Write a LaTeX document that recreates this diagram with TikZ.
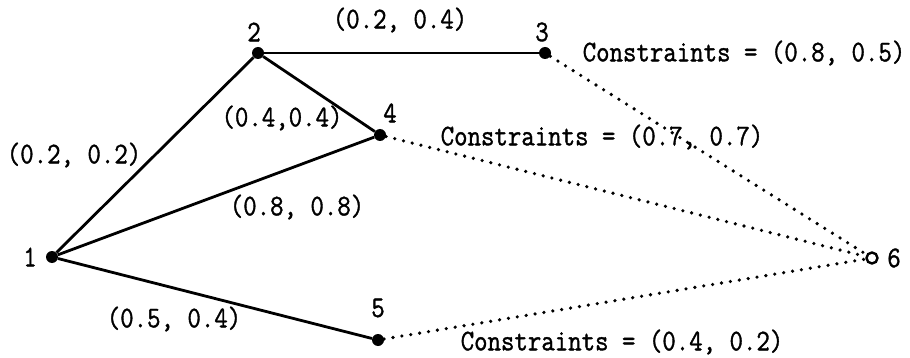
\documentclass[tikz,border=0pt]{standalone}
\usepackage{fontspec}
\setmonofont{Latin Modern Mono}[FakeBold=1.2,FakeStretch=0.87]
\usepackage{tikz}

\begin{document}
\begin{tikzpicture}[x=1pt,y=-1pt,font=\fontsize{30}{34}\ttfamily,
  dot/.style={circle,fill,inner sep=0pt,minimum size=12pt},
  sink/.style={circle,draw,line width=2.4pt,inner sep=0pt,minimum size=11pt},
  arc/.style={line width=2.8pt},
  bound/.style={line width=3.6pt,line cap=round,dash pattern=on 0pt off 9pt}]
 \useasboundingbox (0,0) rectangle (910,358);
 \node[dot] (n1) at (52,257) {};
 \node[dot] (n2) at (258,53) {};
 \node[dot] (n3) at (545,53) {};
 \node[dot] (n4) at (380,135) {};
 \node[dot] (n5) at (378,340) {};
 \node[sink] (n6) at (872,258) {};
 \node (t1) at (30,257) {1};
 \node (t2) at (254,32) {2};
 \node (t3) at (542,32) {3};
 \node (t4) at (390,113) {4};
 \node (t5) at (378,308) {5};
 \node (t6) at (894,258) {6};
 \draw[arc] (n1)--(n2);
 \draw[arc] (n2)--(n3);
 \draw[arc] (n2)--(n4);
 \draw[arc] (n1)--(n4);
 \draw[arc] (n1)--(n5);
 \draw[bound] (n3)--(n6);
 \draw[bound] (n4)--(n6);
 \draw[bound] (n5)--(n6);
 \node (w12) at (74,155) {(0.2, 0.2)};
 \node (w23) at (400,20) {(0.2, 0.4)};
 \node (w24) at (282,118) {(0.4,0.4)};
 \node (w14) at (297,207) {(0.8, 0.8)};
 \node (w15) at (174,319) {(0.5, 0.4)};
 \node (c3) at (744,53) {Constraints = (0.8, 0.5)};
 \node (c4) at (602,137) {Constraints = (0.7, 0.7)};
 \node (c5) at (622,342) {Constraints = (0.4, 0.2)};
\end{tikzpicture}
\end{document}
